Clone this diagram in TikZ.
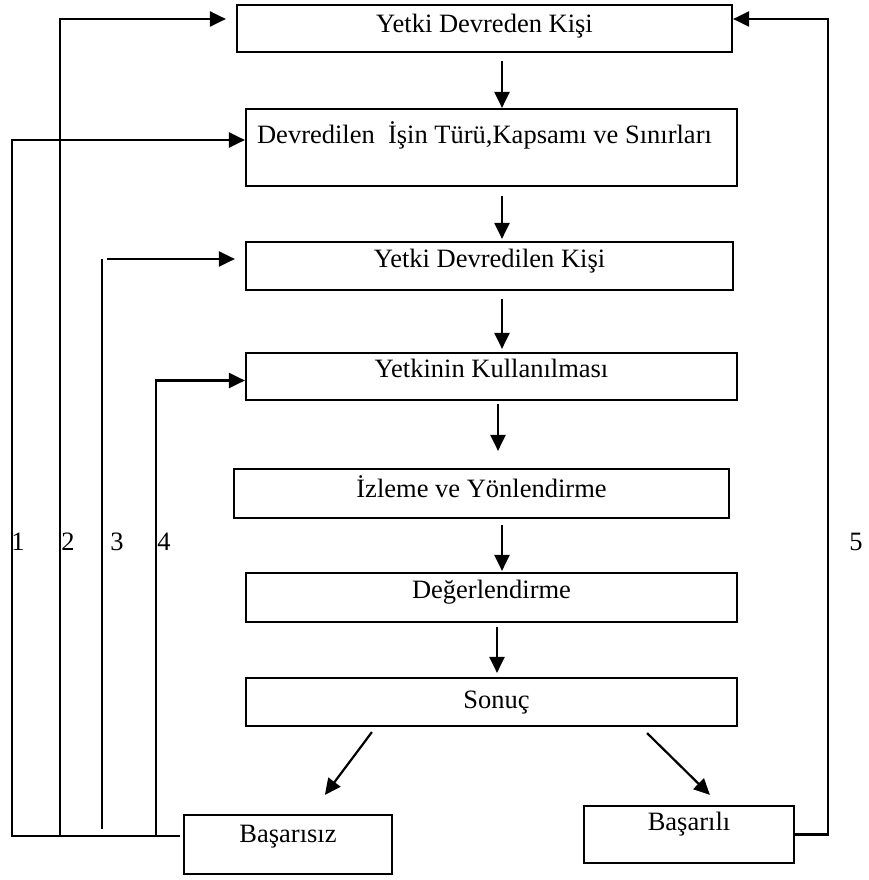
\documentclass[tikz,border=0pt]{standalone}
\usepackage{fontspec}
\setmainfont{Liberation Serif}
\usetikzlibrary{arrows.meta,calc}
\begin{document}
\begin{tikzpicture}[x=1pt,y=-1pt,
  box/.style={draw, line width=2.2pt, inner sep=0pt, font=\fontsize{26.5}{30}\selectfont},
  line/.style={line width=2.2pt},
  arr/.style={line width=2.2pt, -{Triangle[length=16pt,width=15pt]}},
  num/.style={font=\fontsize{26.5}{30}\selectfont, inner sep=0pt, anchor=base}]
\useasboundingbox (0,0) rectangle (869,880);
% boxes
\node[box, minimum width=495pt, text height=28pt, text depth=19pt] (b1) at (484.5,28.5) {Yetki Devreden Kişi};
\node[box, minimum width=491pt, text height=34pt, text depth=43pt] (b2) at (491.5,147.5) {Devredilen\ \ İşin Türü,Kapsamı ve Sınırları\hspace*{14pt}};
\node[box, minimum width=487pt, text height=25pt, text depth=23pt] (b3) at (489.5,266) {Yetki Devredilen Kişi};
\node[box, minimum width=491pt, text height=24pt, text depth=23pt] (b4) at (491.5,376.5) {Yetkinin Kullanılması};
\node[box, minimum width=495pt, text height=28pt, text depth=21pt] (b5) at (481.5,493.5) {İzleme ve Yönlendirme};
\node[box, minimum width=491pt, text height=25pt, text depth=24pt] (b6) at (491.5,597.5) {Değerlendirme};
\node[box, minimum width=491pt, text height=30pt, text depth=18pt] (b7) at (491.5,702) {\hspace*{10pt}Sonuç};
\node[box, minimum width=208pt, text height=27pt, text depth=32pt] (fail) at (288,844.5) {Başarısız};
\node[box, minimum width=210pt, text height=24pt, text depth=33pt] (succ) at (689,834.5) {Başarılı};
% column coordinates
\coordinate (ax) at (502,0);
\coordinate (ay) at (498,0);
\coordinate (az) at (497,0);
% vertical arrows
\draw[arr, shorten <=8pt] (b1.south -| ax) -- (b2.north -| ax);
\draw[arr, shorten <=9pt, shorten >=2pt] (b2.south -| ax) -- (b3.north -| ax);
\draw[arr, shorten <=8pt, shorten >=3pt] (b3.south -| ax) -- (b4.north -| ax);
\draw[arr, shorten <=3pt, shorten >=17pt] (b4.south -| ay) -- (b5.north -| ay);
\draw[arr, shorten <=6pt, shorten >=1pt] (b5.south -| ax) -- (b6.north -| ax);
\draw[arr, shorten <=4pt, shorten >=4pt] (b6.south -| az) -- (b7.north -| az);
% diagonal arrows
\draw[arr] ($(b7.south west)+(127,5)$) -- ($(fail.north west)+(142,-19)$);
\draw[arr] ($(b7.south east)+(-91,6)$) -- ($(succ.north west)+(127,-10)$);
% feedback loops
\coordinate (bl) at (180,836);
\coordinate (c1) at (12,836);
\coordinate (c2) at (60,836);
\coordinate (c3) at (102,829);
\coordinate (c3top) at (107,259);
\coordinate (c4) at (156,836);
\coordinate (c5) at (828,834.5);
\draw[arr] (bl) -- (c1) |- ([yshift=7.5pt]b2.west);
\draw[arr, shorten >=10pt] (c2) |- ([yshift=9.5pt]b1.west);
\draw[line] (c3) -- (c3 |- c3top);
\draw[arr, shorten >=10pt] (c3top) -- (b3.west |- c3top);
\draw[arr] (c4) |- ([yshift=-4pt]b4.west);
\draw[arr] (succ.east) -- (c5) |- ([yshift=9.5pt]b1.east);
% labels
\node[num] (n1) at (18,550) {1};
\node[num] (n2) at (68,550) {2};
\node[num] (n3) at (117,550) {3};
\node[num] (n4) at (164,550) {4};
\node[num] (n5) at (856,550) {5};
\end{tikzpicture}
\end{document}
